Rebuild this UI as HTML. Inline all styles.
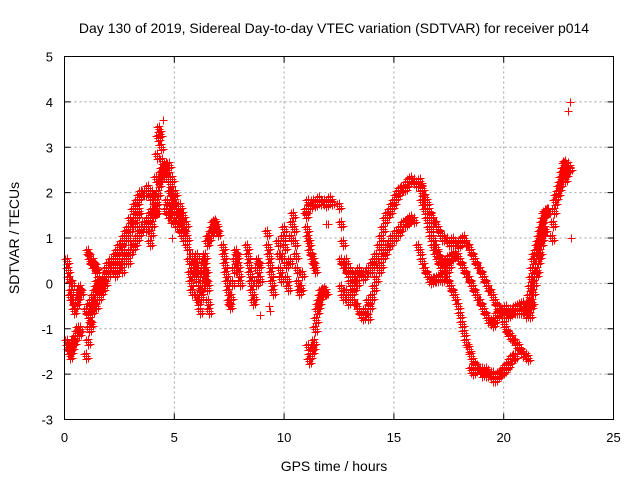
<!DOCTYPE html>
<html><head><meta charset="utf-8"><style>
body{margin:0;background:#fff}
svg{display:block;font-family:"Liberation Sans",sans-serif}
</style></head><body>
<svg id="chart" width="640" height="480" viewBox="0 0 640 480">
<rect width="640" height="480" fill="#fff"/>
<text x="334" y="33" font-size="14" text-anchor="middle">Day 130 of 2019, Sidereal Day-to-day VTEC variation (SDTVAR) for receiver p014</text>
<g id="grid"></g>
<g id="axes"></g>
<g id="marks"></g>
<rect x="64.5" y="56.5" width="549" height="363" fill="none" stroke="#000"/>
<text x="334" y="471" font-size="14" text-anchor="middle">GPS time / hours</text>
<text x="0" y="0" font-size="14" text-anchor="middle" transform="translate(19,238) rotate(-90)">SDTVAR / TECUs</text>
</svg>
<script>
const xTicks = [0,5,10,15,20,25];
const yTicks = [-3,-2,-1,0,1,2,3,4,5];
const trackStart = [0.1,0.1,1.0,1.0,1.05,1.8,2.3,2.0,4.1,3.9,4.5,4.6,5.6,5.8,6.5,7.2,8.3,9.2,9.7,11.0,11.0,11.1,12.5,12.6,12.6,13.6,13.8,16.2,16.3,16.3,20.0,16.1,18.5,21.0,21.2,22.2,22.8];
const trackStep = [0.05,0.05,0.05,0.05,0.05,0.1,0.1,0.1,0.05,0.05,0.05,0.05,0.05,0.05,0.05,0.05,0.05,0.05,0.05,0.1,0.05,0.05,0.1,0.1,0.1,0.1,0.1,0.1,0.1,0.1,0.1,0.1,0.1,0.05,0.05,0.05,0.05];
const trackValues = [
 [0.5,0.3,0.1,-0.3,-0.2,0.0,-0.4,-0.6,-0.5,-0.4,-0.3,-0.2,-0.1,-0.2],
 [-1.3,-1.4,-1.5,-1.6,-1.5,-1.4,-1.3,-1.3,-1.2,-1.1,-1.0,-1.1,-1.0],
 [-1.6,-1.3,-1.0,-0.8,-0.9,-0.6,-0.5,-0.4,-0.3,-0.5,-0.2,-0.3,-0.1,-0.2,0.0,-0.1,0.1,0.0,0.2],
 [-0.6,-0.7,-0.5,-0.8,-0.4,-0.6,-0.3,-0.4,-0.2,-0.1,0.0,0.1,0.0],
 [0.7,0.6,0.5,0.5,0.4,0.5,0.4,0.3,0.35,0.3],
 [0.1,0.3,0.2,0.4,0.5,0.3,0.6,0.5,0.8,0.7,1.0,1.2,1.4,1.6,1.7,1.8,1.9,2.0,2.0,2.0,2.1,1.9,2.0,1.8,1.6],
 [0.2,0.3,0.4,0.3,0.5,0.6,0.5,0.7,0.8,0.9,1.0,1.1,1.2,1.3,1.2,1.4,1.5,1.6,1.8],
 [0.4,0.5,0.4,0.6,0.7,0.8,0.9,1.0,1.1,1.0,1.2,1.3,1.4,1.5,1.6],
 [1.9,2.3,2.8,3.2,3.4,3.3,3.0,2.7,2.5],
 [0.9,1.1,1.3,1.5,1.7,1.6,1.8,2.0,2.2,2.3,2.4,2.5,2.5],
 [2.5,2.4,2.6,2.5,2.3,2.6,2.2,2.0,2.3,1.9,1.8,2.0,1.7,1.6,1.5,1.7,1.4,1.3,1.5,1.2,1.1,1.3,1.0],
 [1.6,1.8,1.5,1.7,2.0,1.4,1.6,1.8,1.5,1.3,1.6,1.4,1.2,1.5,1.1,1.3,1.0],
 [0.8,0.5,0.2,0.0,-0.2,0.3,0.5,0.4,0.2,0.6,0.3,-0.1,-0.3,0.0,0.4,0.5,0.3,0.1,-0.1],
 [0.6,0.4,0.5,0.3,0.1,-0.3,-0.4,-0.6,-0.2,0.0,0.2,0.5,0.6,0.3,0.0,-0.4,-0.6],
 [0.9,1.0,1.0,1.1,1.2,1.3,1.3,1.35,1.3,1.2,1.1],
 [0.8,0.6,0.4,0.2,0.0,-0.2,-0.4,-0.5,-0.3,0.0,0.3,0.5,0.7,0.6,0.4,0.2,0.0],
 [0.8,0.6,0.4,0.2,0.0,-0.2,-0.4,-0.3,0.0,0.3,0.5,0.4,0.1],
 [1.1,0.8,0.6,0.4,0.2,0.0,-0.2],
 [0.9,0.6,0.3,0.1,0.6,1.0,1.2,0.8,0.4,0.1,-0.1,0.5,1.0,1.3,1.5,1.2,0.9,0.6,0.3,0.0,-0.2,-0.1,0.2],
 [1.6,1.8,1.7,1.8,1.75,1.8,1.85,1.8,1.8,1.75,1.8,1.85,1.8],
 [1.5,1.2,1.0,0.9,0.7,0.6,0.5,0.4,0.3],
 [-1.4,-1.7,-1.6,-1.5,-1.4,-1.3,-1.0,-0.8,-0.6,-0.5,-0.4,-0.3,-0.2,-0.2,-0.15,-0.2,-0.2],
 [1.7,1.3,0.9,0.5,0.2,0.0,-0.2,-0.4,-0.5,-0.6,-0.7,-0.75,-0.6,-0.4],
 [0.5,0.4,0.3,0.2,0.3,0.2,0.1,0.2,0.3,0.2,0.15],
 [-0.1,-0.3,-0.2,-0.4,-0.3,-0.2,-0.1,0.0],
 [0.15,0.2,0.3,0.3,0.4,0.5,0.6,0.8,1.0,1.2,1.4,1.5,1.6,1.7,1.8,1.9,2.0,2.05,2.1,2.1,2.2,2.25,2.3,2.25,2.2,2.2,2.25],
 [-0.75,-0.5,-0.3,-0.1,0.1,0.3,0.4,0.6,0.7,0.8,0.9,1.0,1.0,1.1,1.1,1.2,1.3,1.3,1.35,1.4,1.45,1.4],
 [2.2,2.1,1.9,1.8,1.6,1.5,1.4,1.3,1.2,1.1,1.0,1.0,0.95,0.9,0.9,0.95,0.9,0.85,0.9,0.95,1.0,0.9,0.8,0.7,0.6,0.5,0.4,0.3,0.2,0.1,0.0,-0.1,-0.2,-0.3,-0.4,-0.5,-0.55,-0.6,-0.6,-0.7,-0.7,-0.65,-0.6,-0.6,-0.55,-0.5,-0.5,-0.45,-0.5,-0.45,-0.45],
 [2.0,1.8,1.6,1.4,1.2,1.0,0.8,0.65,0.55,0.5,0.45,0.5,0.55,0.55,0.6,0.65,0.6,0.5,0.4,0.3,0.2,0.1,0.0,-0.1,-0.2,-0.3,-0.4,-0.5,-0.6,-0.7,-0.8,-0.85,-0.9,-0.8,-0.7,-0.65,-0.6,-0.6,-0.55,-0.6,-0.6,-0.6,-0.55,-0.6,-0.6,-0.6],
 [1.8,1.6,1.4,1.2,1.0,0.8,0.6,0.5,0.4,0.3,0.2,0.1,0.0,-0.1,-0.2,-0.3,-0.5,-0.7,-0.9,-1.1,-1.3,-1.45,-1.6,-1.7,-1.8,-1.85,-1.9,-1.9,-1.95,-2.0,-2.0,-2.05,-2.1,-2.1,-2.05,-2.0,-1.95,-1.9,-1.85,-1.8,-1.7,-1.65,-1.6],
 [-0.9,-1.0,-1.1,-1.15,-1.2,-1.3,-1.35,-1.4,-1.5,-1.55,-1.6,-1.65],
 [0.8,0.7,0.5,0.3,0.2,0.1,0.05,0.07,0.1,0.1,0.15,0.1,0.2,0.3,0.4],
 [-1.9,-1.95,-1.9,-1.85,-1.9,-2.0,-1.95,-1.9,-1.95,-2.0,-2.0],
 [-0.7,-0.6,-0.5,-0.3,-0.1,0.1,0.3,0.5,0.6,0.7,0.8,0.9,1.0,1.1,1.2,1.3,1.4,1.5,1.55,1.6,1.6],
 [-0.7,-0.5,-0.4,-0.2,0.0,0.2,0.3,0.5,0.6,0.7,0.9,1.0,1.1,1.2,1.2],
 [1.0,1.3,1.6,1.8,1.9,2.0,2.1,2.2,2.3,2.4,2.5,2.6,2.65],
 [2.3,2.4,2.5,2.6,2.55]
];
const singleX = [4.5,4.9,8.9,9.3,9.35,11.9,12.0,22.95,23.0,23.05];
const singleY = [3.6,1.0,-0.7,-0.5,-0.6,1.3,1.3,3.8,4.0,1.0];

const NS='http://www.w3.org/2000/svg';
const X0=64.5,X1=613.5,Y0=419.5,Y1=56.5;
function xs(v){return X0+(v-0)/25*(X1-X0);}
function ys(v){return Y0-(v+3)/8*(Y0-Y1);}
const grid=document.getElementById('grid'),axes=document.getElementById('axes'),marks=document.getElementById('marks');
function mk(tag,a,p){const e=document.createElementNS(NS,tag);for(const k in a)e.setAttribute(k,a[k]);p.appendChild(e);return e;}
xTicks.forEach(t=>{
 const x=xs(t);
 if(t>0&&t<25){const g=mk('line',{x1:x,x2:x,y1:Y1,y2:Y0,stroke:'#a0a0a0','stroke-dasharray':'2,3'},grid);
 
 }
 mk('line',{x1:x,x2:x,y1:Y0,y2:Y0-6,stroke:'#000'},axes);
 mk('line',{x1:x,x2:x,y1:Y1,y2:Y1+6,stroke:'#000'},axes);
 const l=mk('text',{x:x,y:442,'font-size':13,'text-anchor':'middle'},axes);l.textContent=t;
 
 
});
yTicks.forEach(t=>{
 const y=ys(t);
 if(t>-3&&t<5){const g=mk('line',{x1:X0,x2:X1,y1:y,y2:y,stroke:'#a0a0a0','stroke-dasharray':'2,3'},grid);
 
 }
 mk('line',{x1:X0,x2:X0+6,y1:y,y2:y,stroke:'#000'},axes);
 mk('line',{x1:X1,x2:X1-6,y1:y,y2:y,stroke:'#000'},axes);
 const l=mk('text',{x:53,y:y+5,'font-size':13,'text-anchor':'end'},axes);l.textContent=t;
 
 
});
// each sample is drawn as a small cluster of "+" glyphs (dense overlapping markers)
const glyph=[[0,-3],[0,0],[0,3],[-2,-2],[2,2]];
function plusD(h,v,cluster){const x=Math.round(xs(h))+0.5,y=Math.round(ys(v))+0.5;
 const offs=cluster?glyph:[[0,0]];let s='';
 offs.forEach(o=>{const cx=x+o[0],cy=y+o[1];s+='M'+(cx-4)+' '+cy+'h8M'+cx+' '+(cy-4)+'v8';});return s;}
trackValues.forEach((vals,i)=>{
 let d='';
 vals.forEach((v,j)=>{d+=plusD(trackStart[i]+j*trackStep[i],v,true);});
 const p=mk('path',{d:d,fill:'none',stroke:'#ff0000','stroke-width':1},marks);
 
 
});
singleX.forEach((h,i)=>{
 const p=mk('path',{d:plusD(h,singleY[i],false),fill:'none',stroke:'#ff0000','stroke-width':1},marks);
 
 
});
</script>
</body></html>
